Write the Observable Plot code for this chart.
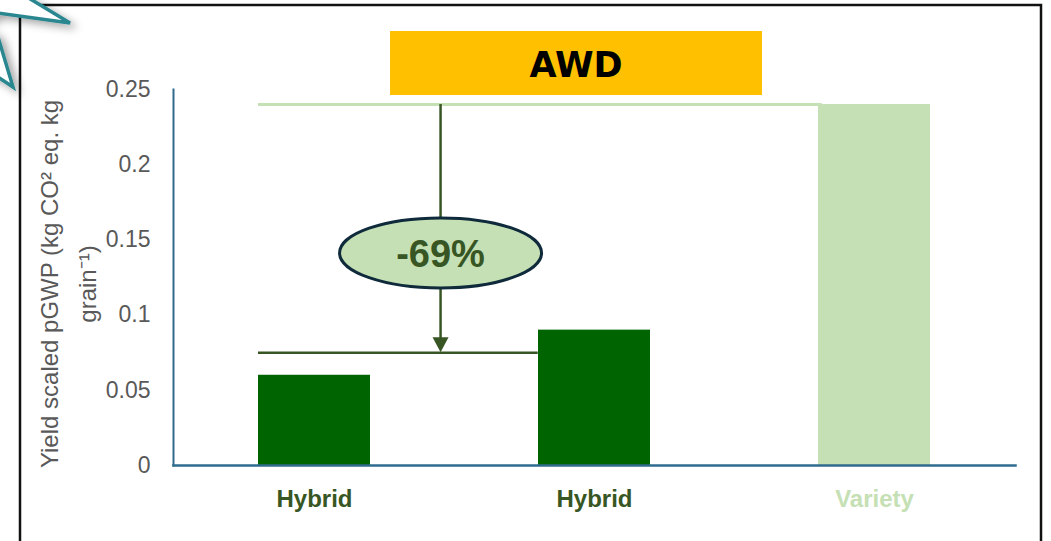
<!DOCTYPE html>
<html>
<head>
<meta charset="utf-8">
<script src="https://cdn.jsdelivr.net/npm/d3@7"></script>
<script src="https://cdn.jsdelivr.net/npm/@observablehq/plot@0.6"></script>
<style>
  html, body { margin: 0; padding: 0; background: #fff; }
  svg { display: block; }
</style>
</head>
<body>
<div id="chart"></div>
<script>
// ---- data ----
const categories = ["Hybrid 1", "Hybrid 2", "Variety"];
const categoryLabels = ["Hybrid", "Hybrid", "Variety"];
const values = [0.06, 0.09, 0.24];
const barColors = ["#006400", "#006400", "#c5e0b4"];
const labelColors = ["#375623", "#375623", "#c5e0b4"];
const yTicks = [0, 0.05, 0.1, 0.15, 0.2, 0.25];
const yTickLabels = ["0", "0.05", "0.1", "0.15", "0.2", "0.25"];
const yLabelLines = ["Yield scaled pGWP (kg CO² eq. kg", "grain⁻¹)"];
const titleText = "AWD";
const reductionText = "-69%";
const hybridMean = (values[0] + values[1]) / 2;   // 0.075
const varietyValue = values[2];

const data = categories.map((c, i) => ({
  id: c, label: categoryLabels[i], value: values[i],
  fill: barColors[i], labelFill: labelColors[i]
}));

const axisColor = "#2f6b8e";
const W = 1051, H = 541;
const mL = 173, mR = 36;
const bandW = (W - mL - mR) / categories.length * 0.4;

const chart = Plot.plot({
  width: W, height: H,
  marginLeft: mL, marginRight: mR, marginTop: 89, marginBottom: 76,
  style: { fontFamily: "'Liberation Sans', Arial, sans-serif", background: "white", overflow: "visible" },
  x: { domain: categories, paddingInner: 0.6, paddingOuter: 0.3, axis: null },
  y: { domain: [0, 0.25], axis: null },
  color: { type: "identity" },
  marks: [
    Plot.ruleY([{ y: varietyValue, x1: categories[0], x2: categories[2] }],
      { y: "y", x1: "x1", x2: "x2", stroke: "#c5e0b4", strokeWidth: 3, insetRight: bandW - 4 }),
    Plot.barY(data, { x: "id", y: "value", fill: "fill" }),
    Plot.ruleY([{ y: hybridMean, x1: categories[0], x2: categories[1] }],
      { y: "y", x1: "x1", x2: "x2", stroke: "#375623", strokeWidth: 2.5, insetRight: bandW }),
    Plot.axisY({ ticks: yTicks, tickSize: 0, tickPadding: 23, fontSize: 23, color: "#595959",
      tickFormat: d => yTickLabels[yTicks.indexOf(d)], label: null }),
    Plot.text(data, { x: "id", y: () => 0, text: "label", fill: "labelFill", dy: 34,
      fontSize: 24, fontWeight: "bold" }),
    Plot.frame({ anchor: "left", stroke: axisColor, strokeWidth: 2 }),
    Plot.frame({ anchor: "bottom", stroke: axisColor, strokeWidth: 2.5 })
  ]
});

document.getElementById("chart").appendChild(chart);

// ---- annotations (positioned from the chart's scales) ----
const svg = d3.select(chart);
const xs = chart.scale("x"), ys = chart.scale("y");
const bw = xs.bandwidth;
const x0 = xs.apply(categories[0]), x1 = xs.apply(categories[1]);
const ax = x0 + bw + (x1 - x0 - bw) * 0.42;
const yTop = ys.apply(varietyValue), yBot = ys.apply(hybridMean);

const ann = svg.append("g");
ann.append("line").attr("x1", ax).attr("x2", ax).attr("y1", yTop).attr("y2", yBot - 12)
  .attr("stroke", "#375623").attr("stroke-width", 2.5);
ann.append("path")
  .attr("d", `M${ax - 8},${yBot - 15} L${ax + 8},${yBot - 15} L${ax},${yBot} Z`)
  .attr("fill", "#375623");
const ey = ys.apply(0.141);
ann.append("ellipse").attr("cx", ax).attr("cy", ey).attr("rx", 101).attr("ry", 35)
  .attr("fill", "#c5e0b4").attr("stroke", "#0f2a3a").attr("stroke-width", 3);
ann.append("text").attr("x", ax).attr("y", ey).attr("dy", "0.36em")
  .attr("text-anchor", "middle").attr("font-size", 38).attr("font-weight", "bold")
  .attr("font-family", "'Liberation Sans', Arial, sans-serif")
  .attr("fill", "#375623").text(reductionText);

// title box
ann.append("rect").attr("x", 390).attr("y", 31).attr("width", 372).attr("height", 64).attr("fill", "#ffc000");
ann.append("text").attr("x", 576).attr("y", 64).attr("dy", "0.36em").attr("text-anchor", "middle")
  .attr("font-family", "'DejaVu Sans', sans-serif").attr("font-weight", "bold").attr("font-size", 35)
  .attr("fill", "#000").text(titleText);

// y-axis title (two rotated lines)
const yc = 284;
[[49, yLabelLines[0]], [87, yLabelLines[1]]].forEach(([xx, t]) => {
  svg.append("text").attr("transform", `translate(${xx},${yc}) rotate(-90)`)
    .attr("text-anchor", "middle").attr("dy", "0.36em")
    .attr("font-family", "'Liberation Sans', Arial, sans-serif").attr("font-size", 24)
    .attr("fill", "#595959").text(t);
});

// outer border
svg.append("rect").attr("x", 20).attr("y", 5).attr("width", 1021).attr("height", 600)
  .attr("fill", "none").attr("stroke", "#111").attr("stroke-width", 2.5);

// decorative star corner
const defs = svg.append("defs");
const f = defs.append("filter").attr("id", "shadow").attr("x", "-50%").attr("y", "-50%")
  .attr("width", "200%").attr("height", "200%");
f.append("feDropShadow").attr("dx", 5).attr("dy", 4).attr("stdDeviation", 4)
  .attr("flood-color", "#000").attr("flood-opacity", 0.35);
const starPts = [[-60, -60], [27, -3], [70, 23], [-2, 13], [-20, 25], [-2, 37], [13, 87], [-2, 77], [-60, 60]];
svg.append("polygon").attr("points", starPts.map(p => p.join(",")).join(" "))
  .attr("fill", "#fff").attr("stroke", "#2a8790").attr("stroke-width", 3.5)
  .attr("stroke-linejoin", "miter").attr("filter", "url(#shadow)");
</script>
</body>
</html>
